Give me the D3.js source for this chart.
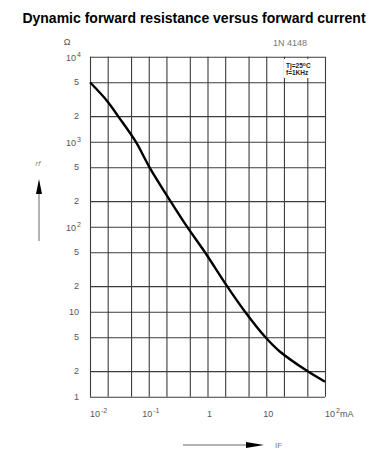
<!DOCTYPE html>
<html>
<head>
<meta charset="utf-8">
<script src="https://cdn.jsdelivr.net/npm/d3@7"></script>
<style>
  html, body { margin: 0; padding: 0; background: #fff; }
  svg { display: block; font-family: "Liberation Sans", Arial, sans-serif; }
</style>
</head>
<body>
<svg id="chart" width="391" height="468"></svg>
<script>
// ---- data ----
const forwardCurrent = [0.01, 0.02, 0.03, 0.06, 0.103, 0.234, 0.448, 0.905, 2.15, 4.35, 9.7, 17, 50, 100]; // mA
const dynResistance  = [5000, 2960, 2000, 1000, 500, 200, 100, 50, 20, 10, 5, 3.4, 2, 1.5];              // ohm
const xGrid = [0.01, 0.02, 0.05, 0.1, 0.2, 0.5, 1, 2, 5, 10, 20, 50, 100];
const yGrid = [1, 2, 5, 10, 20, 50, 100, 200, 500, 1000, 2000, 5000, 10000];
const xLabels = [[0.01, "10", "-2"], [0.1, "10", "-1"], [1, "1", ""], [10, "10", ""], [100, "10", "2", "mA"]];
const yLabels = [[10000, "10", "4"], [5000, "5", ""], [2000, "2", ""], [1000, "10", "3"], [500, "5", ""], [200, "2", ""],
                 [100, "10", "2"], [50, "5", ""], [20, "2", ""], [10, "10", ""], [5, "5", ""], [2, "2", ""], [1, "1", ""]];
const title = "Dynamic forward resistance versus forward current";

// ---- drawing ----
const svg = d3.select("#chart");
const x = d3.scaleLog().domain([0.01, 100]).range([90, 325]);
const y = d3.scaleLog().domain([1, 10000]).range([396.7, 56.7]);

svg.append("text").attr("x", 194).attr("y", 23).attr("text-anchor", "middle")
  .attr("font-size", 14).attr("font-weight", "bold").attr("fill", "#000").text(title);

// grid
const gx = svg.append("g").attr("transform", `translate(0,${y(1)})`)
  .call(d3.axisBottom(x).tickValues(xGrid).tickSize(-(y(1) - y(10000))).tickFormat(""));
const gy = svg.append("g").attr("transform", `translate(${x(0.01)},0)`)
  .call(d3.axisLeft(y).tickValues(yGrid).tickSize(-(x(100) - x(0.01))).tickFormat(""));
[gx, gy].forEach(g => {
  g.select(".domain").remove();
  g.selectAll(".tick line").attr("stroke", "#3c3c3c").attr("stroke-width", 1.1);
});

// legend box
svg.append("rect").attr("x", 284).attr("y", 59).attr("width", 39).attr("height", 19).attr("fill", "#fff");
const lg = svg.append("text").attr("x", 286).attr("y", 68).attr("font-size", 6.5).attr("font-weight", "bold").attr("fill", "#222");
lg.append("tspan").text("Tj=25");
lg.append("tspan").attr("font-size", 5).attr("dy", -2).text("o");
lg.append("tspan").attr("dy", 2).text("C");
svg.append("text").attr("x", 286).attr("y", 75).attr("font-size", 6.5).attr("font-weight", "bold").attr("fill", "#222").text("f=1KHz");

// curve
svg.append("path")
  .datum(forwardCurrent.map((d, i) => [d, dynResistance[i]]))
  .attr("fill", "none").attr("stroke", "#000").attr("stroke-width", 2.4)
  .attr("d", d3.line().x(d => x(d[0])).y(d => y(d[1])).curve(d3.curveCatmullRom.alpha(0.5)));

// y labels
yLabels.forEach(([v, base, sup]) => {
  const t = svg.append("text").attr("x", 79).attr("y", y(v) + 3).attr("text-anchor", "end")
    .attr("font-size", 9).attr("fill", "#555");
  if (sup) {
    t.attr("x", 81).attr("y", y(v) + 4);
    t.append("tspan").text(base);
    t.append("tspan").attr("font-size", 7).attr("dy", -4).attr("dx", 1).text(sup);
  } else {
    t.text(base);
  }
});

// x labels
xLabels.forEach(([v, base, sup, unit], i) => {
  const anchor = (i === 0 || i === xLabels.length - 1) ? "start" : "middle";
  const t = svg.append("text").attr("x", x(v) + (anchor === "middle" ? 2 : 0)).attr("y", 417)
    .attr("text-anchor", anchor).attr("font-size", 9).attr("fill", "#555");
  t.append("tspan").text(base);
  if (sup) t.append("tspan").attr("font-size", 7).attr("dy", -4).attr("dx", 1).text(sup);
  if (unit) t.append("tspan").attr("dy", 4).text(unit);
});

// units / annotations
svg.append("text").attr("x", 67).attr("y", 45).attr("text-anchor", "middle").attr("font-size", 9).attr("fill", "#555").text("Ω");
svg.append("text").attr("x", 273).attr("y", 46).attr("font-size", 9).attr("fill", "#777").text("1N 4148");
svg.append("text").attr("x", 38).attr("y", 166).attr("text-anchor", "middle").attr("font-size", 8).attr("font-style", "italic").attr("fill", "#888").text("rf");
svg.append("text").attr("x", 275).attr("y", 448).attr("font-size", 8).attr("fill", "#777").text("IF");

// arrows
svg.append("line").attr("x1", 39).attr("y1", 241).attr("x2", 39).attr("y2", 190).attr("stroke", "#999").attr("stroke-width", 1.5);
svg.append("path").attr("d", "M39,179 L36,194 L42,194 Z").attr("fill", "#000");
svg.append("line").attr("x1", 183).attr("y1", 445).attr("x2", 252).attr("y2", 445).attr("stroke", "#999").attr("stroke-width", 1.5);
svg.append("path").attr("d", "M264,445 L246,442 L246,448 Z").attr("fill", "#000");
</script>
</body>
</html>
